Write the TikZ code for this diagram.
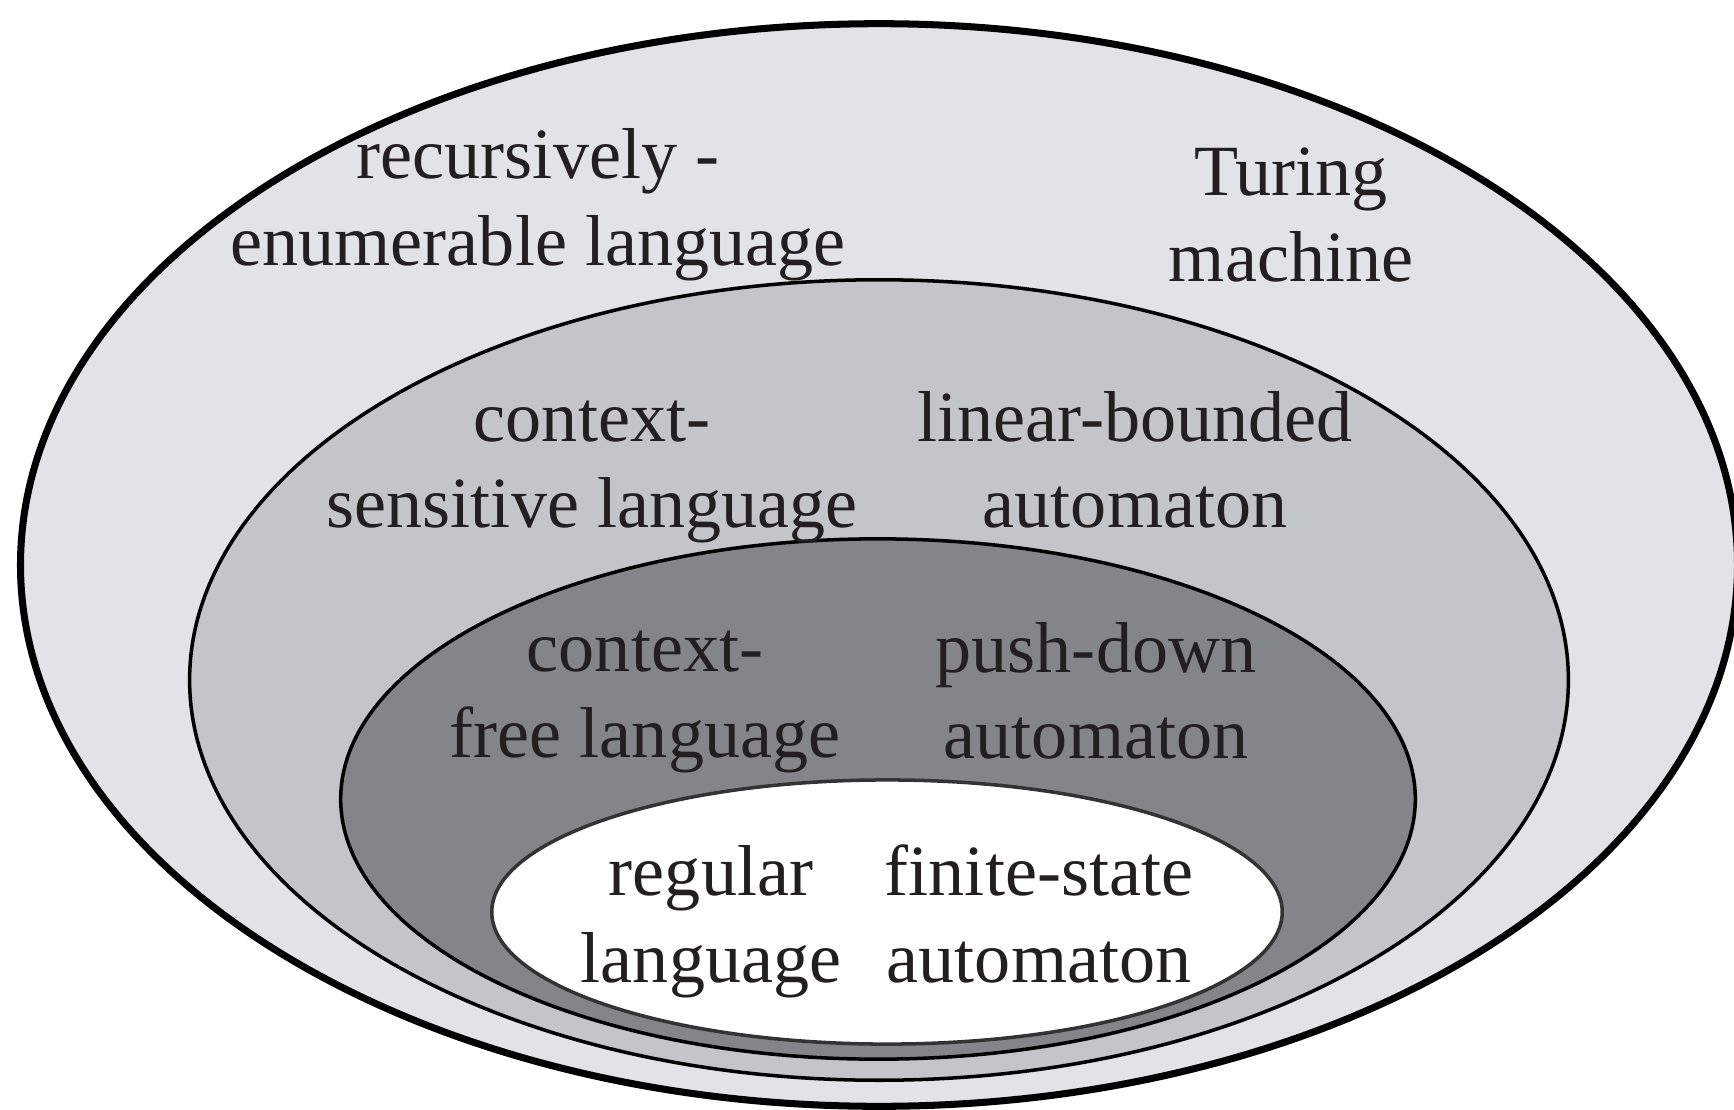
\documentclass[tikz,border=0pt]{standalone}
\usepackage{fontspec}
\setmainfont{Liberation Serif}
\definecolor{reFill}{RGB}{226,227,230}
\definecolor{csFill}{RGB}{196,197,200}
\definecolor{cfFill}{RGB}{132,133,137}
\definecolor{inkGray}{RGB}{35,31,32}

\begin{document}
\begin{tikzpicture}[x=0.01cm,y=-0.01cm,
    lbl/.style={align=center,text=inkGray,inner sep=0pt,
      font=\fontsize{20.5}{24.6}\selectfont},
    ring/.style={draw=black,line width=1pt}]
    \useasboundingbox[fill=white] (0,0) rectangle (1734,1109);
    % nested language classes
    \draw[ring,fill=reFill,line width=2pt] (879,565) ellipse [x radius=8.58cm,y radius=5.41cm];
    \draw[ring,fill=csFill] (879,680) ellipse [x radius=6.89cm,y radius=4.0cm];
    \draw[ring,fill=cfFill] (878,799) ellipse [x radius=5.37cm,y radius=2.6cm];
    \draw[ring,draw=black!80,fill=white] (887,912) ellipse [x radius=3.95cm,y radius=1.32cm];
    % labels
    \node[lbl] (re) at (538,205) {recursively -\\enumerable language};
    \node[lbl] (tm) at (1291,215) {Turing\\machine};
    \node[lbl] (cs) at (592,472) {context-\\sensitive language};
    \node[lbl] (lba) at (1135,460) {linear-bounded\\automaton};
    \node[lbl] (cf) at (645,702) {context-\\free language};
    \node[lbl] (pda) at (1096,691) {push-down\\automaton};
    \node[lbl] (reg) at (711,922) {regular\\language};
    \node[lbl] (fsa) at (1039,914) {finite-state\\automaton};
\end{tikzpicture}
\end{document}
